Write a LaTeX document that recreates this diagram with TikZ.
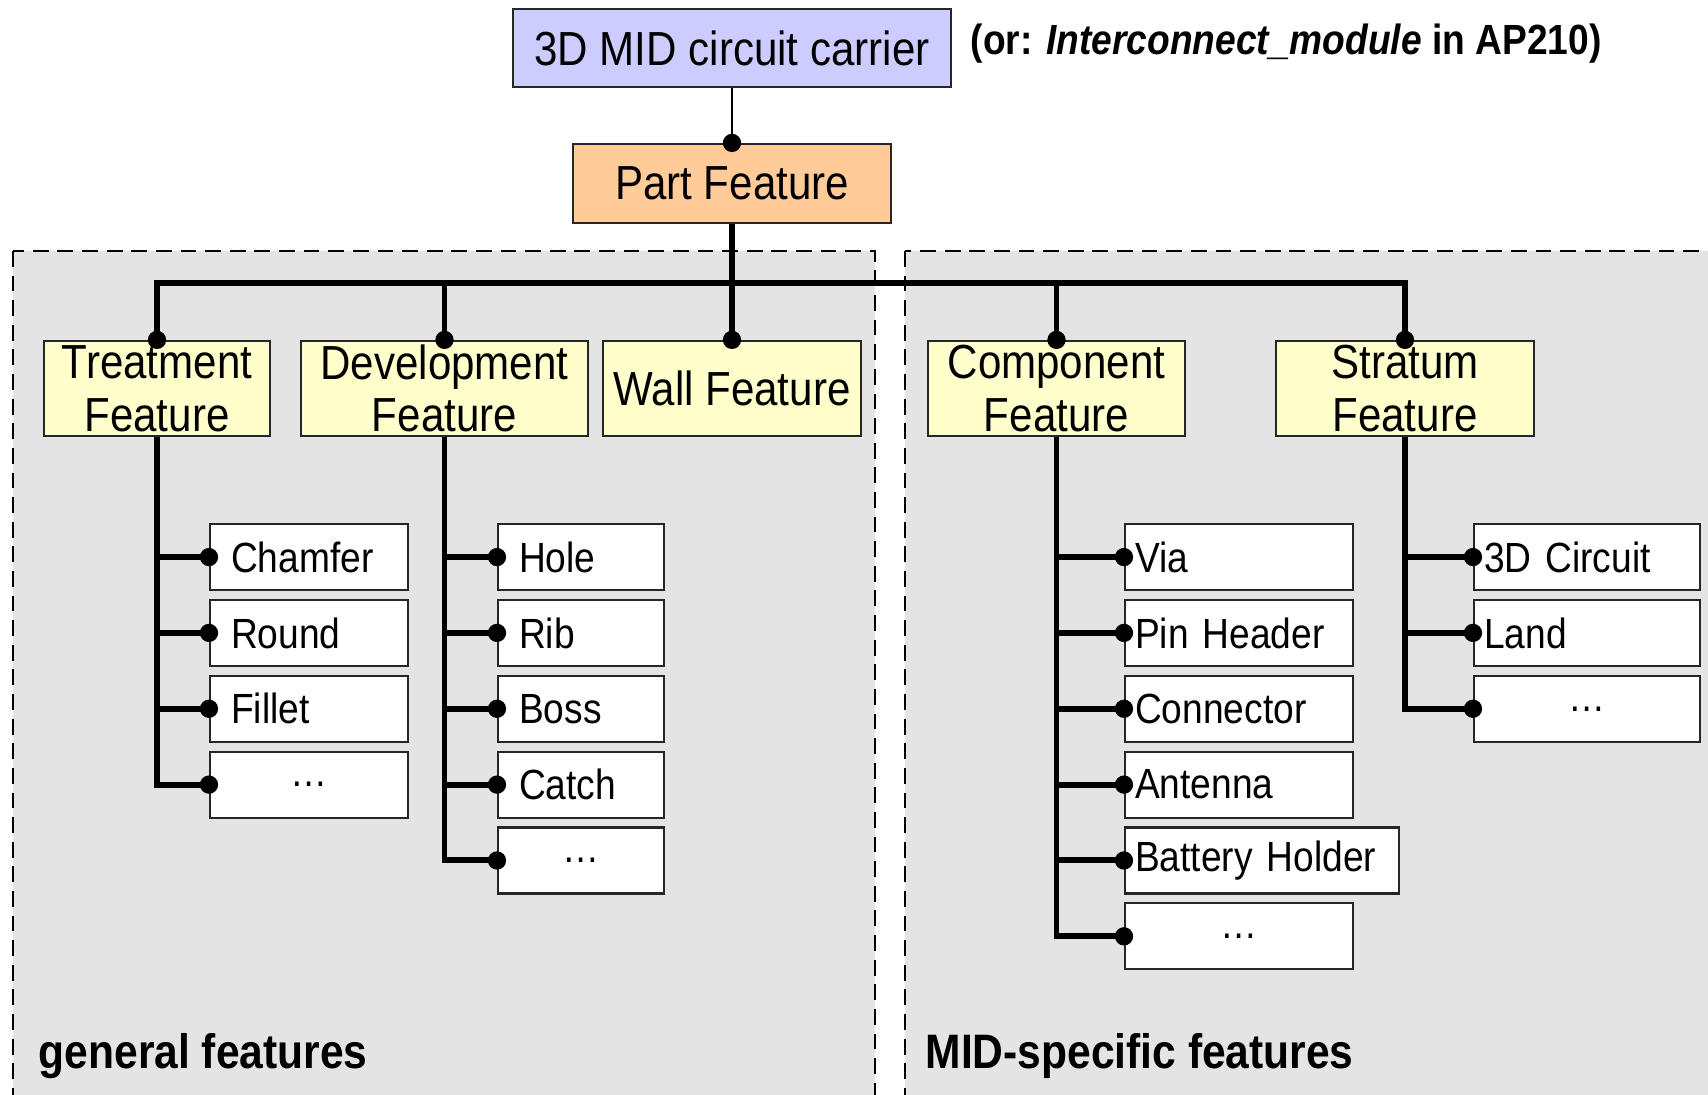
\documentclass[tikz,border=0pt]{standalone}
\usepackage{fontspec}
\setmainfont{Liberation Sans}[FakeStretch=0.88]
\usetikzlibrary{positioning,calc,arrows.meta}

\definecolor{carrierblue}{HTML}{CCCCFF}
\definecolor{partorange}{HTML}{FFCC99}
\definecolor{featyellow}{HTML}{FFFFCC}
\definecolor{zonegray}{HTML}{E4E4E4}

\tikzset{
  box/.style={draw=black!85, line width=0.6pt, inner sep=0pt, align=center},
  head/.style={box, fill=featyellow, minimum height=0.95cm, font=\fontsize{13.6}{15}\selectfont},
  leaf/.style={box, fill=white, minimum height=0.66cm, align=left, anchor=north west, font=\fontsize{12}{14}\selectfont},
  gleaf/.style={leaf, inner xsep=0.21cm},
  mleaf/.style={leaf, inner xsep=0.1cm},
  more/.style={align=center},
  bus/.style={line width=1.7pt},
  zone/.style={draw, fill=zonegray, dash pattern=on 4.5pt off 2.5pt, line width=0.5pt},
  zonelabel/.style={anchor=west, inner sep=0pt, font=\bfseries\fontsize{13.75}{16}\selectfont},
}

\begin{document}
\begin{tikzpicture}[x=0.01cm, y=-0.01cm]
    \clip (0,0) rectangle (1708,1095);

    % grey zones
    \draw [zone] (13,251) rectangle (875,1130);
    \draw [zone] (905,251) rectangle (1740,1130);
    \node [zonelabel] (genlbl) at (38,1056) {general features};
    \node [zonelabel] (midlbl) at (925,1056) {MID-specific features};

    % top
    \node [box, fill=carrierblue, minimum width=4.38cm, minimum height=0.78cm, font=\fontsize{13.6}{15}\selectfont] (carrier) at (732,48) {3D MID circuit carrier};
    \node [anchor=west, inner sep=0pt, font=\bfseries\fontsize{12}{14}\selectfont] (note) at (970,44) {(or: \textit{Interconnect\_module} in AP210)};
    \node [box, fill=partorange, minimum width=3.17cm, minimum height=0.79cm, font=\fontsize{13.6}{15}\selectfont] (part) at (732,183.5) {Part Feature};

    % feature classes
    \node [head, minimum width=2.26cm] (treat) at (157,388.5) {Treatment\\Feature};
    \node [head, minimum width=2.87cm] (devel) at (444.5,388.5) {Development\\Feature};
    \node [head, minimum width=2.57cm] (wall) at (732,388.5) {Wall Feature};
    \node [head, minimum width=2.57cm] (comp) at (1056.5,388.5) {Component\\Feature};
    \node [head, minimum width=2.58cm] (strat) at (1405,388.5) {Stratum\\Feature};

    % general leaves
    \node [gleaf, text width=1.56cm] (t1) at (209,523) {Chamfer};
    \node [gleaf, text width=1.56cm, below=0.077cm of t1.south west, anchor=north west] (t2) {Round};
    \node [gleaf, text width=1.56cm, below=0.077cm of t2.south west, anchor=north west] (t3) {Fillet};
    \node [gleaf, more, text width=1.56cm, below=0.077cm of t3.south west, anchor=north west] (t4) {\dots};

    \node [gleaf, text width=1.24cm] (d1) at (497,523) {Hole};
    \node [gleaf, text width=1.24cm, below=0.077cm of d1.south west, anchor=north west] (d2) {Rib};
    \node [gleaf, text width=1.24cm, below=0.077cm of d2.south west, anchor=north west] (d3) {Boss};
    \node [gleaf, text width=1.24cm, below=0.077cm of d3.south west, anchor=north west] (d4) {Catch};
    \node [gleaf, more, text width=1.24cm, below=0.077cm of d4.south west, anchor=north west] (d5) {\dots};

    % MID leaves
    \node [mleaf, text width=2.08cm] (c1) at (1124,523) {Via};
    \node [mleaf, text width=2.08cm, below=0.077cm of c1.south west, anchor=north west] (c2) {Pin Header};
    \node [mleaf, text width=2.08cm, below=0.077cm of c2.south west, anchor=north west] (c3) {Connector};
    \node [mleaf, text width=2.08cm, below=0.077cm of c3.south west, anchor=north west] (c4) {Antenna};
    \node [mleaf, text width=2.54cm, below=0.077cm of c4.south west, anchor=north west] (c5) {Battery Holder};
    \node [mleaf, more, text width=2.08cm, below=0.077cm of c5.south west, anchor=north west] (c6) {\dots};

    \node [mleaf, text width=2.06cm] (s1) at (1473,523) {3D Circuit};
    \node [mleaf, text width=2.06cm, below=0.077cm of s1.south west, anchor=north west] (s2) {Land};
    \node [mleaf, more, text width=2.06cm, below=0.077cm of s2.south west, anchor=north west] (s3) {\dots};

    % connectors
    \draw [line width=0.6pt] (carrier) -- (part);
    \coordinate (hub) at (732,283);
    \draw [bus] (part) -- (wall.north);
    \draw [bus] (treat.north) |- (hub) -| (strat.north);
    \draw [bus] (devel.north) -- (devel.north |- hub);
    \draw [bus] (comp.north) -- (comp.north |- hub);

    \draw [bus] (treat.south) |- (t4.west);
    \draw [bus] (devel.south) |- (d5.west);
    \draw [bus] (comp.south) |- (c6.west);
    \draw [bus] (strat.south) |- (s3.west);
    \foreach \n/\p in {t1/treat,t2/treat,t3/treat,d1/devel,d2/devel,d3/devel,d4/devel,c1/comp,c2/comp,c3/comp,c4/comp,c5/comp,s1/strat,s2/strat}
        \draw [bus] (\p.south |- \n.west) -- (\n.west);

    % dots
    \foreach \n in {part.north,treat.north,devel.north,wall.north,comp.north,strat.north,t1.west,t2.west,t3.west,t4.west,d1.west,d2.west,d3.west,d4.west,d5.west,c1.west,c2.west,c3.west,c4.west,c5.west,c6.west,s1.west,s2.west,s3.west}
        \fill (\n) circle [radius=2.6pt];
\end{tikzpicture}
\end{document}
